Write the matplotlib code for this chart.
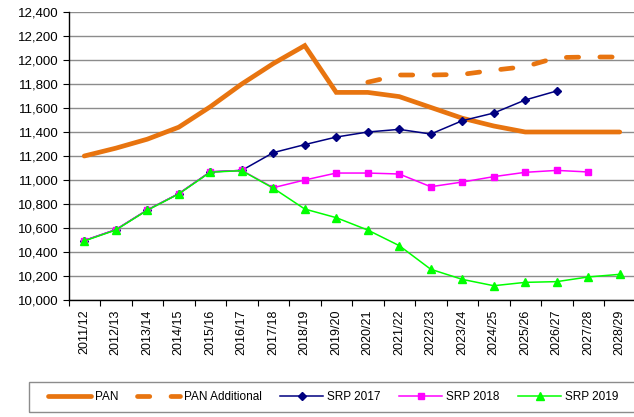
import numpy as np
from matplotlib import pyplot as plt
from matplotlib.patches import Rectangle
from matplotlib.ticker import FuncFormatter

plt.rcParams['font.family'] = ['Liberation Sans', 'DejaVu Sans']

years = ["2011/12", "2012/13", "2013/14", "2014/15", "2015/16", "2016/17",
         "2017/18", "2018/19", "2019/20", "2020/21", "2021/22", "2022/23",
         "2023/24", "2024/25", "2025/26", "2026/27", "2027/28", "2028/29"]

pan = [11200, 11265, 11340, 11440, 11610, 11800, 11970, 12120, 11730, 11730,
       11695, 11605, 11515, 11450, 11400, 11400, 11400, 11400]
pan_additional = [None] * 9 + [11815, 11875, 11875, 11880, 11915, 11945,
                               12020, 12025, 12025]
srp_2017 = [10495, 10586, 10750, 10886, 11068, 11080, 11228, 11295, 11358,
            11400, 11422, 11383, 11494, 11558, 11667, 11742, None, None]
srp_2018 = [10495, 10586, 10750, 10886, 11068, 11080, 10936, 11000, 11058,
            11058, 11050, 10944, 10983, 11028, 11064, 11080, 11067, None]
srp_2019 = [10492, 10583, 10748, 10884, 11065, 11078, 10932, 10758, 10686,
            10583, 10453, 10256, 10172, 10119, 10147, 10153, 10192, 10214]


def arr(vals):
    return np.array([np.nan if v is None else v for v in vals], dtype=float)


x = np.arange(len(years))
orange = '#E8740F'

fig = plt.figure(figsize=(6.34, 4.17), dpi=100)
ax = fig.add_axes([68.5 / 634, 1 - 300 / 417, 567 / 634, 288 / 417])

ax.plot(x, arr(pan), color=orange, lw=3.4, solid_capstyle='round',
        solid_joinstyle='miter', label='PAN', zorder=3)
ax.plot(x, arr(pan_additional), color=orange, lw=3.4, dash_capstyle='round',
        dashes=(2.6, 4.5), label='PAN Additional', zorder=3)
ax.plot(x, arr(srp_2017), color='#000080', lw=1.1, marker='D', ms=3.7,
        label='SRP 2017', zorder=4)
ax.plot(x, arr(srp_2018), color='#FF00FF', lw=1.1, marker='s', ms=5,
        label='SRP 2018', zorder=5)
ax.plot(x, arr(srp_2019), color='#00FF00', lw=1.1, marker='^', ms=5.5,
        label='SRP 2019', zorder=6)

ax.set_xlim(-0.5, len(years) - 0.5)
ax.set_ylim(10000, 12400)
ax.set_yticks(np.arange(10000, 12401, 200))
ax.yaxis.set_major_formatter(FuncFormatter(lambda v, p: f"{int(v):,}"))
ax.yaxis.grid(True, color='#8c8c8c', lw=1.0)
ax.set_axisbelow(True)

ax.set_xticks(x)
ax.set_xticklabels(years, rotation=90, fontsize=9)
ax.set_xticks(np.arange(-0.5, len(years), 1), minor=True)
ax.tick_params(axis='x', which='major', length=0, pad=7)
ax.tick_params(axis='x', which='minor', length=4, width=0.8, direction='out')
ax.tick_params(axis='y', length=4, width=0.8, labelsize=9.5, pad=3)

for side in ['top', 'right']:
    ax.spines[side].set_visible(False)
ax.spines['left'].set_linewidth(1.0)
ax.spines['bottom'].set_linewidth(1.0)

# legend frame drawn separately so the padding matches
fig.patches.append(Rectangle((29 / 634, 5 / 417), 611 / 634, 30 / 417,
                             transform=fig.transFigure, fill=False,
                             edgecolor='#8c8c8c', lw=1.0))
fig.legend(loc='center left', bbox_to_anchor=(48 / 634, 1 - 397 / 417),
           ncol=5, frameon=False, fontsize=8.5, handlelength=3.6,
           handletextpad=0.35, columnspacing=1.6, borderpad=0,
           borderaxespad=0, numpoints=1)

fig.savefig('out.png', dpi=100)
